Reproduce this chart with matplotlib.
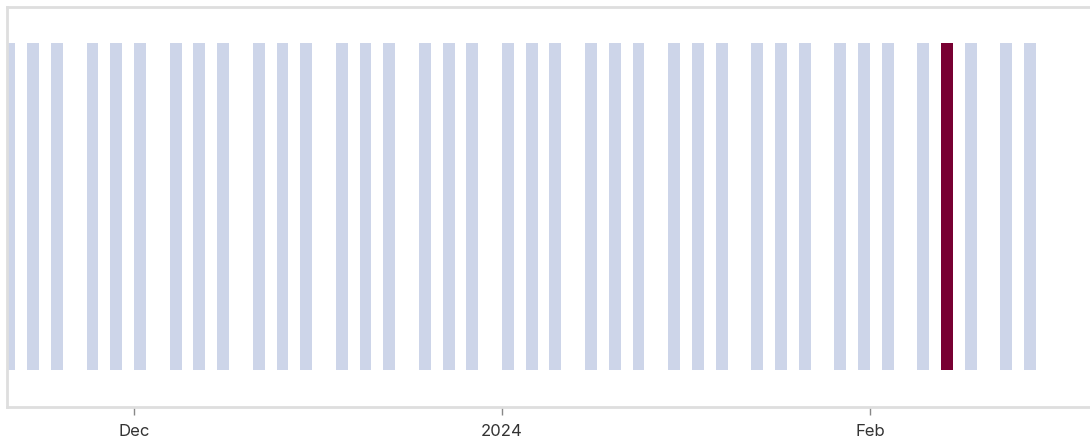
import matplotlib
matplotlib.use("Agg")
import matplotlib.pyplot as plt
import matplotlib.dates as mdates
import pandas as pd

# Datas das barras (segunda, quarta e sexta)
datas = [
    "2023-11-20", "2023-11-22", "2023-11-24",
    "2023-11-27", "2023-11-29", "2023-12-01",
    "2023-12-04", "2023-12-06", "2023-12-08",
    "2023-12-11", "2023-12-13", "2023-12-15",
    "2023-12-18", "2023-12-20", "2023-12-22",
    "2023-12-25", "2023-12-27", "2023-12-29",
    "2024-01-01", "2024-01-03", "2024-01-05",
    "2024-01-08", "2024-01-10", "2024-01-12",
    "2024-01-15", "2024-01-17", "2024-01-19",
    "2024-01-22", "2024-01-24", "2024-01-26",
    "2024-01-29", "2024-01-31", "2024-02-02",
    "2024-02-05", "2024-02-07", "2024-02-09",
    "2024-02-12", "2024-02-14",
]
valores = [1] * len(datas)
destaque = "2024-02-07"

tick_datas = ["2023-12-01", "2024-01-01", "2024-02-01"]
tick_rotulos = ["Dec", "2024", "Feb"]

cor_base = "#cdd5e9"
cor_destaque = "#780032"

plt.rcParams["font.family"] = ["Inter", "DejaVu Sans"]

fig = plt.figure(figsize=(10.9, 4.41), dpi=100)
ax = fig.add_axes([7 / 1090, 34 / 441, 1 - 7 / 1090, (407 - 7) / 441])

x = mdates.date2num(pd.to_datetime(datas))
cores = [cor_destaque if d == destaque else cor_base for d in datas]
ax.bar(x, valores, width=1.0, align="edge", color=cores, linewidth=0)

ax.set_xlim(mdates.date2num(pd.Timestamp("2023-11-20 07:00")),
            mdates.date2num(pd.Timestamp("2024-02-19 13:00")))
ax.set_ylim(-0.113, 1.11)

ax.set_xticks(mdates.date2num(pd.to_datetime(tick_datas)))
ax.set_xticklabels(tick_rotulos, fontsize=12, color="#333333")
ax.tick_params(axis="x", length=6, width=1, color="#888888", pad=6)
ax.set_yticks([])

for lado in ["left", "top", "bottom"]:
    ax.spines[lado].set_color("#dedede")
    ax.spines[lado].set_linewidth(2)
ax.spines["right"].set_visible(False)

fig.savefig("out.png", dpi=100)
